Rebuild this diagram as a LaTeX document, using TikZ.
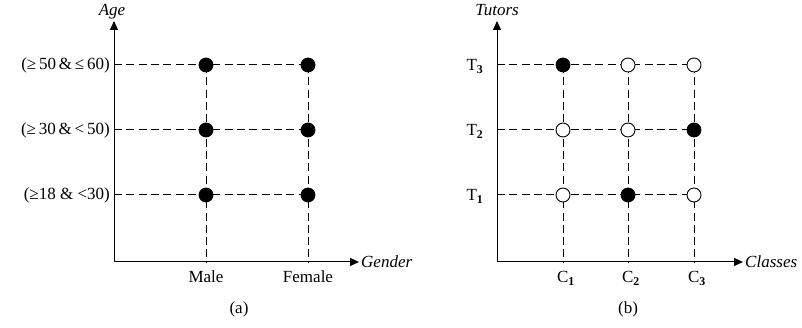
\documentclass[tikz,border=0pt]{standalone}
\usepackage{fontspec}
\setmainfont{Liberation Serif}
\usetikzlibrary{arrows.meta}
\begin{document}
\begin{tikzpicture}[x=1pt,y=-1pt,
  axis/.style={line width=1pt,-{Triangle[length=9pt,width=8pt]}},
  grid/.style={line width=1pt,dash pattern=on 8pt off 4.3pt},
  fdot/.style={circle,fill=black,draw=black,line width=0.8pt,minimum size=14pt,inner sep=0pt},
  odot/.style={circle,fill=white,draw=black,line width=0.9pt,minimum size=14pt,inner sep=0pt},
  lbl/.style={font=\fontsize{17}{19}\selectfont,inner sep=1pt},
  ilbl/.style={font=\fontsize{17}{19}\selectfont\itshape,inner sep=1pt}]
\useasboundingbox (0,0) rectangle (802,328);
% ---------- panel (a)
\coordinate (ao) at (114,262);
\coordinate (ay) at (114,21);
\coordinate (ax) at (359,262);
\foreach \n/\y in {r1/195,r2/130,r3/65} \coordinate (a\n) at (114,\y);
\foreach \n/\x in {m/206,f/308} \coordinate (a\n b) at (\x,262);
% grid
\foreach \r/\y in {r1/195,r2/130,r3/65}{
  \draw[grid] (a\r) -- (308,\y);}
\draw[grid] (206,65) -- (amb);
\draw[grid] (308,65) -- (afb);
\draw[axis] (ao) -- (ay);
\draw[axis] (ao) -- (ax);
\foreach \x in {206,308}\foreach \y in {65,130,195}
  \node[fdot] at (\x,\y) {};
\node[lbl,anchor=east] (la3) at (111,65) {(≥\,50\,\&\,≤\,60)};
\node[lbl,anchor=east] (la2) at (111,130) {(≥\,30\,\&\,<\,50)};
\node[lbl,anchor=east] (la1) at (111,195) {(≥18 \& <30)};
\node[ilbl,anchor=base] (age) at (112,16) {Age};
\node[ilbl,anchor=west] (gender) at (360,262) {Gender};
\node[lbl,anchor=base] (male) at (206,283) {Male};
\node[lbl,anchor=base] (female) at (308,283) {Female};
\node[lbl] (capa) at (239,309) {(a)};
% ---------- panel (b)
\coordinate (bo) at (497,262);
\coordinate (by) at (497,21);
\coordinate (bx) at (743,262);
\foreach \r/\y in {1/195,2/130,3/65}{
  \draw[grid] (497,\y) -- (694,\y);}
\foreach \x in {563,628,694}{
  \draw[grid] (\x,65) -- (\x,262);}
\draw[axis] (bo) -- (by);
\draw[axis] (bo) -- (bx);
\node[fdot] (d13) at (563,65) {};
\node[odot] (d23) at (628,65) {};
\node[odot] (d33) at (694,65) {};
\node[odot] (d12) at (563,130) {};
\node[odot] (d22) at (628,130) {};
\node[fdot] (d32) at (694,130) {};
\node[odot] (d11) at (563,195) {};
\node[fdot] (d21) at (628,195) {};
\node[odot] (d31) at (694,195) {};
\node[lbl,anchor=base] (t3) at (475,71) {T\textsubscript{\textbf{3}}};
\node[lbl,anchor=base] (t2) at (475,136) {T\textsubscript{\textbf{2}}};
\node[lbl,anchor=base] (t1) at (475,201) {T\textsubscript{\textbf{1}}};
\node[lbl,anchor=base] (c1) at (566,283) {C\textsubscript{\textbf{1}}};
\node[lbl,anchor=base] (c2) at (631,283) {C\textsubscript{\textbf{2}}};
\node[lbl,anchor=base] (c3) at (697,283) {C\textsubscript{\textbf{3}}};
\node[ilbl,anchor=base] (tutors) at (497,16) {Tutors};
\node[ilbl,anchor=west] (classes) at (744,262) {Classes};
\node[lbl] (capb) at (628,309) {(b)};
\end{tikzpicture}
\end{document}
